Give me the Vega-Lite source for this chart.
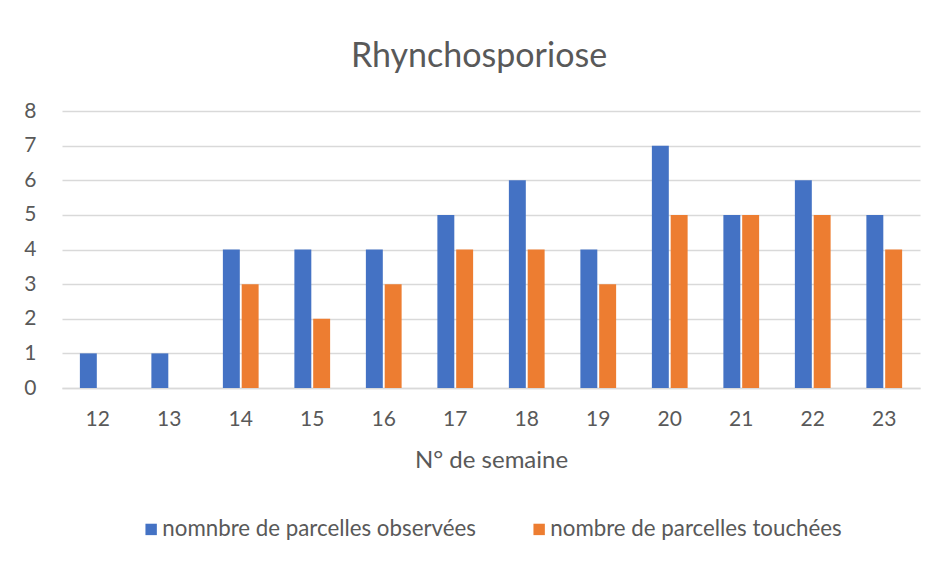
{
  "$schema": "https://vega.github.io/schema/vega-lite/v6.json",
  "width": 858,
  "height": 277,
  "autosize": "none",
  "padding": {"left": 62, "top": 111, "right": 18, "bottom": 173},
  "background": "white",
  "title": {
    "text": "Rhynchosporiose",
    "font": "Lato",
    "fontSize": 34,
    "fontWeight": "normal",
    "color": "#595959",
    "offset": 26,
    "dx": -12,
    "anchor": "middle"
  },
  "data": {
    "values": [
      {"semaine": "12", "serie": "nomnbre de parcelles observées", "valeur": 1},
      {"semaine": "12", "serie": "nombre de parcelles touchées", "valeur": 0},
      {"semaine": "13", "serie": "nomnbre de parcelles observées", "valeur": 1},
      {"semaine": "13", "serie": "nombre de parcelles touchées", "valeur": 0},
      {"semaine": "14", "serie": "nomnbre de parcelles observées", "valeur": 4},
      {"semaine": "14", "serie": "nombre de parcelles touchées", "valeur": 3},
      {"semaine": "15", "serie": "nomnbre de parcelles observées", "valeur": 4},
      {"semaine": "15", "serie": "nombre de parcelles touchées", "valeur": 2},
      {"semaine": "16", "serie": "nomnbre de parcelles observées", "valeur": 4},
      {"semaine": "16", "serie": "nombre de parcelles touchées", "valeur": 3},
      {"semaine": "17", "serie": "nomnbre de parcelles observées", "valeur": 5},
      {"semaine": "17", "serie": "nombre de parcelles touchées", "valeur": 4},
      {"semaine": "18", "serie": "nomnbre de parcelles observées", "valeur": 6},
      {"semaine": "18", "serie": "nombre de parcelles touchées", "valeur": 4},
      {"semaine": "19", "serie": "nomnbre de parcelles observées", "valeur": 4},
      {"semaine": "19", "serie": "nombre de parcelles touchées", "valeur": 3},
      {"semaine": "20", "serie": "nomnbre de parcelles observées", "valeur": 7},
      {"semaine": "20", "serie": "nombre de parcelles touchées", "valeur": 5},
      {"semaine": "21", "serie": "nomnbre de parcelles observées", "valeur": 5},
      {"semaine": "21", "serie": "nombre de parcelles touchées", "valeur": 5},
      {"semaine": "22", "serie": "nomnbre de parcelles observées", "valeur": 6},
      {"semaine": "22", "serie": "nombre de parcelles touchées", "valeur": 5},
      {"semaine": "23", "serie": "nomnbre de parcelles observées", "valeur": 5},
      {"semaine": "23", "serie": "nombre de parcelles touchées", "valeur": 4}
    ]
  },
  "mark": {"type": "bar"},
  "encoding": {
    "x": {
      "field": "semaine",
      "type": "nominal",
      "sort": null,
      "scale": {"paddingInner": 0.5, "paddingOuter": 0.25},
      "axis": {
        "title": "N° de semaine",
        "labelAngle": 0,
        "labelPadding": 20,
        "titlePadding": 19,
        "ticks": false,
        "domain": true,
        "domainColor": "#D9D9D9",
        "domainWidth": 1.5,
        "grid": false
      }
    },
    "xOffset": {
      "field": "serie",
      "type": "nominal",
      "scale": {"domain": ["nomnbre de parcelles observées", "nombre de parcelles touchées"], "paddingInner": 0.1, "paddingOuter": 0}
    },
    "y": {
      "field": "valeur",
      "type": "quantitative",
      "scale": {"domain": [0, 8], "nice": false},
      "axis": {
        "title": null,
        "values": [0, 1, 2, 3, 4, 5, 6, 7, 8],
        "labelOverlap": false,
        "ticks": false,
        "domain": false,
        "grid": true,
        "gridColor": "#D9D9D9",
        "gridWidth": 1.5,
        "labelPadding": 26
      }
    },
    "color": {
      "field": "serie",
      "type": "nominal",
      "scale": {
        "domain": ["nomnbre de parcelles observées", "nombre de parcelles touchées"],
        "range": ["#4472C4", "#ED7D31"]
      },
      "legend": {
        "title": null,
        "orient": "bottom",
        "direction": "horizontal",
        "offset": 46,
        "symbolType": "square",
        "symbolSize": 130,
        "symbolStrokeWidth": 0,
        "columnPadding": 52,
        "labelLimit": 500,
        "labelOffset": 0
      }
    }
  },
  "config": {
    "font": "Lato",
    "view": {"stroke": null},
    "axis": {
      "labelFont": "Lato",
      "labelFontSize": 21,
      "labelColor": "#595959",
      "titleFont": "Lato",
      "titleFontSize": 24,
      "titleFontWeight": "normal",
      "titleColor": "#595959"
    },
    "legend": {
      "labelFont": "Lato",
      "labelFontSize": 22.3,
      "labelColor": "#595959",
      "layout": {"bottom": {"anchor": "middle"}}
    }
  }
}
